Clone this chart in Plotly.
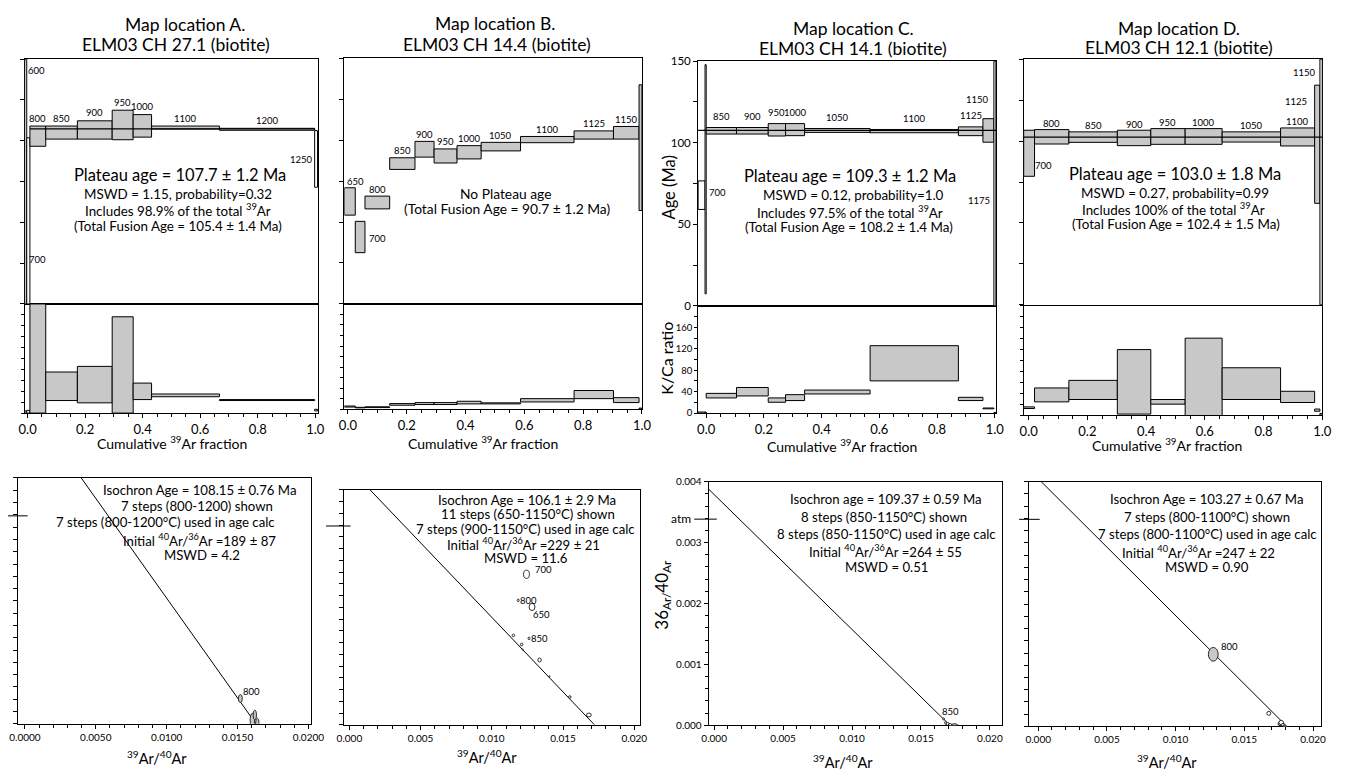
import plotly.graph_objects as go

W, H = 1352, 778
FONT = "Lato"
GRAY = "#c8c8c8"

# ========================= DATA =========================
# Step-heating age spectra: temperature label, cumulative 39Ar fraction (start/end),
# apparent-age box (Ma), K/Ca box, filled (grey) flag, drawn plateau level (Ma).
A_temp       = ["600", "700", "800", "850", "900", "950", "1000", "1100", "1200", "1250"]
A_cum_start  = [-0.010, -0.003, 0.008, 0.063, 0.173, 0.294, 0.367, 0.431, 0.667, 0.998]
A_cum_end    = [-0.003, 0.008, 0.063, 0.173, 0.294, 0.367, 0.431, 0.667, 0.998, 1.008]
A_age_low    = [0.0, 0.0, 96.6, 101.0, 101.0, 100.6, 102.2, 107.2, 106.4, 71.5]
A_age_high   = [150.0, 101.8, 109.0, 109.0, 112.2, 118.7, 116.0, 109.0, 107.6, 106.2]
A_kca_low    = [0.0, 0.0, 0.0, 23.0, 18.8, 0.0, 24.8, 30.0, 23.0, 4.0]
A_kca_high   = [4.0, 5.0, 200.0, 75.3, 85.6, 176.5, 55.0, 35.0, 24.8, 7.0]
A_filled     = [0, 0, 1, 1, 1, 1, 1, 1, 1, 0]
A_plateau    = 107.2

B_temp       = ["650", "700", "800", "850", "900", "950", "1000", "1050", "1100", "1125", "1150", ""]
B_cum_start  = [-0.012, 0.025, 0.058, 0.142, 0.228, 0.293, 0.371, 0.453, 0.587, 0.769, 0.903, 0.990]
B_cum_end    = [0.025, 0.058, 0.142, 0.228, 0.293, 0.371, 0.453, 0.587, 0.769, 0.903, 0.990, 1.000]
B_age_low    = [54.2, 31.3, 58.0, 82.1, 89.6, 86.0, 88.5, 93.4, 98.4, 100.6, 100.6, 57.0]
B_age_high   = [70.9, 50.4, 65.8, 89.2, 99.2, 94.6, 96.6, 98.6, 102.2, 105.6, 108.3, 133.7]
B_kca_low    = [4.0, 2.5, 3.0, 7.5, 8.8, 8.8, 10.0, 10.0, 13.7, 20.0, 12.5, 0.0]
B_kca_high   = [6.0, 3.5, 4.5, 10.6, 12.5, 12.5, 15.0, 12.0, 20.0, 35.5, 21.9, 2.0]
B_filled     = [1, 1, 1, 1, 1, 1, 1, 1, 1, 1, 1, 1]
B_plateau    = None

C_temp       = ["700", "", "850", "900", "950", "1000", "1050", "1100", "1125", "1150", "1175"]
C_cum_start  = [-0.028, -0.004, 0.000, 0.105, 0.215, 0.275, 0.341, 0.568, 0.874, 0.959, 0.997]
C_cum_end    = [-0.004, 0.000, 0.105, 0.215, 0.275, 0.341, 0.568, 0.874, 0.959, 0.997, 1.004]
C_age_low    = [59.1, 7.4, 105.3, 105.3, 104.1, 104.3, 106.3, 106.1, 104.3, 100.3, 0.0]
C_age_high   = [76.6, 147.8, 109.3, 109.3, 111.7, 111.7, 108.7, 108.1, 109.7, 114.7, 150.0]
C_kca_low    = [0.0, 0.0, 28.3, 32.0, 20.2, 23.4, 35.7, 60.1, 23.4, 8.0, 0.0]
C_kca_high   = [2.0, 2.0, 36.8, 47.8, 28.3, 34.4, 43.0, 125.8, 29.4, 9.5, 1.0]
C_filled     = [0, 0, 1, 1, 1, 1, 1, 1, 1, 1, 0]
C_plateau    = 107.5

D_temp       = ["700", "800", "850", "900", "950", "1000", "1050", "1100", "1125", "1150"]
D_cum_start  = [-0.017, 0.020, 0.137, 0.302, 0.416, 0.533, 0.659, 0.858, 0.974, 0.992]
D_cum_end    = [0.020, 0.137, 0.302, 0.416, 0.533, 0.659, 0.858, 0.974, 0.992, 1.000]
D_age_low    = [78.5, 98.2, 99.2, 97.2, 98.0, 98.0, 99.4, 97.0, 62.0, 0.0]
D_age_high   = [106.6, 107.0, 105.6, 106.6, 107.6, 107.6, 105.6, 108.0, 134.1, 150.0]
D_kca_low    = [12.0, 24.2, 28.5, 1.8, 20.0, -2.0, 28.5, 23.0, 7.0, 0.0]
D_kca_high   = [15.0, 49.7, 63.6, 120.0, 28.5, 140.9, 86.7, 43.6, 11.0, 3.0]
D_filled     = [1, 1, 1, 1, 1, 1, 1, 1, 1, 0]
D_plateau    = 102.4

# Inverse isochrons: 39Ar/40Ar (x), 36Ar/40Ar (y), ellipse half-widths, fill, label
A_iso_x  = [0.01520, 0.01605, 0.01622, 0.01640]
A_iso_y  = [0.000411, 0.000064, 0.000144, 0.000011]
A_iso_sx = [0.000139, 0.000160, 0.000118, 0.000118]
A_iso_sy = [0.000064, 0.000107, 0.000080, 0.000080]
A_iso_filled = [1, 1, 1, 1]
A_iso_label  = ["800", "", "", ""]
A_initial_ratio = 189.0
A_x_intercept   = 0.0163

B_iso_x  = [0.01243, 0.01185, 0.01282, 0.01261, 0.01151, 0.01209, 0.01216, 0.01335, 0.01404, 0.01547, 0.01681]
B_iso_y  = [0.002562, 0.002118, 0.002006, 0.001471, 0.001521, 0.001366, 0.001282, 0.001103, 0.000824, 0.000473, 0.000167]
B_iso_sx = [0.000207, 0.00007, 0.000207, 0.00007, 0.00009, 0.00009, 0.00004, 0.00012, 0.00004, 0.00009, 0.00017]
B_iso_sy = [0.00007, 0.000022, 0.000062, 0.000022, 0.000022, 0.000022, 0.00001, 0.000033, 0.00001, 0.000022, 0.000033]
B_iso_filled = [0] * 11
B_iso_label  = ["700", "800", "650", "850", "", "", "", "", "", "", ""]
B_initial_ratio = 229.0
B_x_intercept   = 0.0172

C_iso_x  = [0.01664, 0.01679, 0.01693, 0.01712, 0.01743]
C_iso_y  = [0.000105, 0.000040, 0.000024, 0.000008, -0.000036]
C_iso_sx = [0.00007, 0.00008, 0.00010, 0.00010, 0.000286]
C_iso_sy = [0.000016, 0.000020, 0.000024, 0.000024, 0.0000646]
C_iso_filled = [0, 0, 0, 0, 1]
C_iso_label  = ["850", "", "", "", ""]
C_initial_ratio = 264.0
C_x_intercept   = 0.0171

D_iso_x  = [0.01274, 0.01678, 0.01759, 0.01768, 0.01780, 0.01797, 0.01847]
D_iso_y  = [0.001179, 0.000215, 0.000043, 0.000064, 0.000027, -0.000026, -0.000106]
D_iso_sx = [0.000358, 0.000143, 0.00014, 0.000165, 0.00011, 0.000165, 0.000215]
D_iso_sy = [0.000112, 0.000032, 0.00003, 0.000037, 0.00002, 0.000037, 0.000048]
D_iso_filled = [1, 0, 1, 0, 0, 1, 1]
D_iso_label  = ["800", "", "", "", "", "", ""]
D_initial_ratio = 247.0
D_x_intercept   = 0.0181

ATM_RATIO = 295.5

TITLES = {
    "A": ("Map location A.", "ELM03 CH 27.1 (biotite)"),
    "B": ("Map location B.", "ELM03 CH 14.4 (biotite)"),
    "C": ("Map location C.", "ELM03 CH 14.1 (biotite)"),
    "D": ("Map location D.", "ELM03 CH 12.1 (biotite)"),
}
SPEC_TEXT = {
    "A": ["Plateau age = 107.7 ± 1.2 Ma", "MSWD = 1.15, probability=0.32",
          "Includes 98.9% of the total <sup>39</sup>Ar", "(Total Fusion Age = 105.4 ± 1.4 Ma)"],
    "B": ["No Plateau age", "(Total Fusion Age = 90.7 ± 1.2 Ma)"],
    "C": ["Plateau age = 109.3 ± 1.2 Ma", "MSWD = 0.12, probability=1.0",
          "Includes 97.5% of the total <sup>39</sup>Ar", "(Total Fusion Age = 108.2 ± 1.4 Ma)"],
    "D": ["Plateau age = 103.0 ± 1.8 Ma", "MSWD = 0.27, probability=0.99",
          "Includes 100% of the total <sup>39</sup>Ar", "(Total Fusion Age = 102.4 ± 1.5 Ma)"],
}
ISO_TEXT = {
    "A": ["Isochron Age = 108.15 ± 0.76 Ma", "7 steps (800-1200) shown", "7 steps (800-1200°C) used in age calc",
          "Initial <sup>40</sup>Ar/<sup>36</sup>Ar =189 ± 87", "MSWD = 4.2"],
    "B": ["Isochron Age = 106.1 ± 2.9 Ma", "11 steps (650-1150°C) shown", "7 steps (900-1150°C) used in age calc",
          "Initial <sup>40</sup>Ar/<sup>36</sup>Ar =229 ± 21", "MSWD = 11.6"],
    "C": ["Isochron age = 109.37 ± 0.59 Ma", "8 steps (850-1150°C) shown", "8 steps (850-1150°C) used in age calc",
          "Initial <sup>40</sup>Ar/<sup>36</sup>Ar =264 ± 55", "MSWD = 0.51"],
    "D": ["Isochron Age = 103.27 ± 0.67 Ma", "7 steps (800-1100°C) shown", "7 steps (800-1100°C) used in age calc",
          "Initial <sup>40</sup>Ar/<sup>36</sup>Ar =247 ± 22", "MSWD = 0.90"],
}

# ========================= ASSEMBLY =========================
PANELS = ["A", "B", "C", "D"]
spec = {
    "A": dict(temp=A_temp, c0=A_cum_start, c1=A_cum_end, alo=A_age_low, ahi=A_age_high,
              klo=A_kca_low, khi=A_kca_high, filled=A_filled, plateau=A_plateau,
              pspan=(A_cum_start[2], A_cum_end[8])),
    "B": dict(temp=B_temp, c0=B_cum_start, c1=B_cum_end, alo=B_age_low, ahi=B_age_high,
              klo=B_kca_low, khi=B_kca_high, filled=B_filled, plateau=B_plateau, pspan=None),
    "C": dict(temp=C_temp, c0=C_cum_start, c1=C_cum_end, alo=C_age_low, ahi=C_age_high,
              klo=C_kca_low, khi=C_kca_high, filled=C_filled, plateau=C_plateau,
              pspan=(C_cum_start[0], C_cum_end[-1])),
    "D": dict(temp=D_temp, c0=D_cum_start, c1=D_cum_end, alo=D_age_low, ahi=D_age_high,
              klo=D_kca_low, khi=D_kca_high, filled=D_filled, plateau=D_plateau,
              pspan=(D_cum_start[0], D_cum_end[-1])),
}
iso = {
    "A": dict(x=A_iso_x, y=A_iso_y, sx=A_iso_sx, sy=A_iso_sy, f=A_iso_filled, lab=A_iso_label,
              r0=A_initial_ratio, xi=A_x_intercept),
    "B": dict(x=B_iso_x, y=B_iso_y, sx=B_iso_sx, sy=B_iso_sy, f=B_iso_filled, lab=B_iso_label,
              r0=B_initial_ratio, xi=B_x_intercept),
    "C": dict(x=C_iso_x, y=C_iso_y, sx=C_iso_sx, sy=C_iso_sy, f=C_iso_filled, lab=C_iso_label,
              r0=C_initial_ratio, xi=C_x_intercept),
    "D": dict(x=D_iso_x, y=D_iso_y, sx=D_iso_sx, sy=D_iso_sy, f=D_iso_filled, lab=D_iso_label,
              r0=D_initial_ratio, xi=D_x_intercept),
}

# ---- layout geometry (pixels: left, right, top, bottom) ----
SPEC_BOX = {"A": (17, 315, 53, 302), "B": (341.7, 644, 52, 302),
            "C": (701, 1003.5, 55, 304), "D": (1031.7, 1335, 53, 303)}
KCA_BOX = {"A": (17, 315, 302, 413), "B": (341.7, 644, 302, 409),
           "C": (701, 1003.5, 304, 413), "D": (1031.7, 1335, 304, 415)}
ISO_BOX = {"A": (10, 308, 479, 729), "B": (341, 642, 491, 730),
           "C": (711.7, 1010, 482.7, 730.5), "D": (1036.7, 1334, 482.7, 731.7)}
SPEC_XR = {"A": [-0.010, 1.010], "B": [-0.012, 1.0], "C": [-0.028, 1.004], "D": [-0.017, 1.0]}
ISO_XR = {"A": [-0.0005, 0.0202], "B": [-0.0004, 0.0204], "C": [-0.0004, 0.0209], "D": [-0.0007, 0.0206]}
LABEL_YSHIFT = {"A": 8, "B": 7, "C": 11, "D": 6}
LABEL_OVERRIDE = {
    "A": {"600": (0.031, 142.8), "700": (0.036, 27.1), "1250": (0.951, 88.6)},
    "B": {"650": (0.025, 74.9), "700": (0.100, 39.8)},
    "C": {"700": (0.039, 69.3), "1175": (0.946, 64.6), "1150": (0.940, 126.3)},
    "D": {"700": (0.050, 84.9), "1125": (0.910, 124.3), "1150": (0.939, 141.7)},
}
ISO_LABEL_SHIFT = {"A": (11, 7), "B": (14, 4), "C": (7, 7), "D": (16, 8)}
ISO_LABEL_SHIFT_B = {"700": (17, 5), "800": (10, 0), "650": (9, -8), "850": (10, 0)}
ATM_DASH = {"A": (0, 20), "B": (323, 348), "C": (697, 720), "D": (1027, 1048)}
TITLE_POS = {"A": ((180, 17.5), (171, 38)), "B": ((495, 17), (496.7, 38.5)),
             "C": ((859, 22), (858.7, 42)), "D": ((1189, 21.5), (1189, 41.5))}
SPEC_TEXT_POS = {
    "A": [(175, 170.5), (173, 190.5), (173, 206.5), (173, 222.7)],
    "B": [(505, 189.3), (507, 204.5)],
    "C": [(855, 172), (859, 190.7), (855, 208.3), (854, 223.3)],
    "D": [(1185, 169.5), (1185, 189.3), (1184, 205), (1186, 221)],
}
ISO_TEXT_POS = {
    "A": [(195, 491.7), (191.7, 507.3), (160, 524), (195, 541.7), (196.7, 557.7)],
    "B": [(527.3, 501), (528.3, 516), (525.3, 531), (524, 546), (525.7, 560)],
    "C": [(891.7, 500), (890, 518.3), (892.5, 536), (891.7, 553.3), (892.5, 569.3)],
    "D": [(1217.5, 500.7), (1217.5, 518.3), (1218.3, 536), (1209, 554), (1217.5, 570)],
}
CUM_LABEL_POS = {"A": (167, 443), "B": (482, 443), "C": (847, 446), "D": (1177, 445)}
ISO_XLABEL_POS = {"A": (151, 763), "B": (487, 762), "C": (848, 767), "D": (1177, 767)}
SIZE_TITLE, SIZE_PLATEAU, SIZE_SPEC, SIZE_SPEC_B, SIZE_ISO = 17.5, 16.5, 13.4, 13.8, 13.2


def dom_x(a, b):
    return [a / W, b / W]


def dom_y(top, bottom):
    return [1 - bottom / H, 1 - top / H]


def names(n):
    s = "" if n == 1 else str(n)
    return "xaxis" + s, "yaxis" + s, "x" + s, "y" + s


def base_axis():
    return dict(showline=True, mirror=True, linecolor="black", linewidth=1, showgrid=False,
                zeroline=False, tickcolor="black", fixedrange=True, tickfont=dict(size=11, color="black"))


def txt(text, x, y, size, **kw):
    d = dict(text=text, x=x / W, y=1 - y / H, xref="paper", yref="paper", showarrow=False,
             font=dict(size=size, color="black", family=FONT), xanchor="center", yanchor="middle")
    d.update(kw)
    return d


fig = go.Figure()
layout = dict(width=W, height=H, margin=dict(l=0, r=0, t=0, b=0), paper_bgcolor="white",
              plot_bgcolor="rgba(0,0,0,0)", showlegend=False, font=dict(family=FONT, color="black"))
shapes, annotations = [], []

for i, p in enumerate(PANELS):
    d = spec[p]
    # ---------------- age spectrum ----------------
    xa, ya, xr, yr = names(i + 1)
    l, r, t, b = SPEC_BOX[p]
    ax = base_axis()
    ax.update(domain=dom_x(l, r), range=SPEC_XR[p], anchor=yr, ticks="", showticklabels=False)
    layout[xa] = ax
    ay = base_axis()
    ay.update(domain=dom_y(t, b), range=[0, 150], anchor=xr, ticks="outside", ticklen=4)
    if p == "C":
        ay.update(dtick=50, tick0=0, showticklabels=True, tickfont=dict(size=11.5, color="black"),
                  minor=dict(dtick=25, ticks="outside", ticklen=4, tickcolor="black"))
    else:
        ay.update(dtick=25, tick0=0, showticklabels=False)
    layout[ya] = ay
    fig.add_trace(go.Scatter(x=[None], y=[None], xaxis=xr, yaxis=yr, hoverinfo="skip"))
    for k in range(len(d["temp"])):
        shapes.append(dict(type="rect", xref=xr, yref=yr, x0=d["c0"][k], x1=d["c1"][k],
                           y0=d["alo"][k], y1=d["ahi"][k],
                           fillcolor=GRAY if d["filled"][k] else "white",
                           line=dict(color="black", width=1)))
    if d["plateau"] is not None:
        shapes.append(dict(type="line", xref=xr, yref=yr, x0=d["pspan"][0], x1=d["pspan"][1],
                           y0=d["plateau"], y1=d["plateau"], line=dict(color="black", width=1.3)))
    for k, tl in enumerate(d["temp"]):
        if not tl:
            continue
        if tl in LABEL_OVERRIDE[p]:
            lx, ly = LABEL_OVERRIDE[p][tl]
            ys = 0
        else:
            lx = (d["c0"][k] + d["c1"][k]) / 2
            ly = d["ahi"][k]
            ys = LABEL_YSHIFT[p]
        annotations.append(dict(x=lx, y=ly, xref=xr, yref=yr, text=tl, showarrow=False, yshift=ys,
                                font=dict(size=9.5, color="black", family=FONT),
                                xanchor="center", yanchor="middle"))

    # ---------------- K/Ca ----------------
    xa, ya, xr, yr = names(i + 5)
    l, r, t, b = KCA_BOX[p]
    ax = base_axis()
    ax.update(domain=dom_x(l, r), range=SPEC_XR[p], anchor=yr, ticks="outside", ticklen=4,
              dtick=0.2, tick0=0, tickformat=".1f", tickfont=dict(size=13, color="black"),
              minor=dict(dtick=0.05, ticks="outside", ticklen=3, tickcolor="black"))
    layout[xa] = ax
    ay = base_axis()
    ay.update(domain=dom_y(t, b), range=[0, 200], anchor=xr, ticks="outside", ticklen=3)
    if p == "C":
        ay.update(tickmode="array", tickvals=[0, 40, 80, 120, 160], showticklabels=True,
                  tickfont=dict(size=9.5, color="black"),
                  minor=dict(dtick=20, ticks="outside", ticklen=3, tickcolor="black"))
    else:
        ay.update(dtick=20, tick0=0, showticklabels=False)
    layout[ya] = ay
    fig.add_trace(go.Scatter(x=[None], y=[None], xaxis=xr, yaxis=yr, hoverinfo="skip"))
    for k in range(len(d["temp"])):
        shapes.append(dict(type="rect", xref=xr, yref=yr, x0=d["c0"][k], x1=d["c1"][k],
                           y0=d["klo"][k], y1=d["khi"][k],
                           fillcolor=GRAY if d["filled"][k] else "white",
                           line=dict(color="black", width=1)))

    # ---------------- isochron ----------------
    q = iso[p]
    xa, ya, xr, yr = names(i + 9)
    l, r, t, b = ISO_BOX[p]
    ax = base_axis()
    ax.update(domain=dom_x(l, r), range=ISO_XR[p], anchor=yr, ticks="outside", ticklen=4,
              dtick=0.005, tick0=0, tickformat=".4f" if p == "A" else ".3f",
              tickfont=dict(size=10, color="black"),
              minor=dict(dtick=0.001, ticks="outside", ticklen=3, tickcolor="black"))
    layout[xa] = ax
    ay = base_axis()
    ay.update(domain=dom_y(t, b), range=[0, 0.004], anchor=xr, ticks="outside", ticklen=4)
    if p == "C":
        ay.update(dtick=0.001, tick0=0, tickformat=".3f", showticklabels=True,
                  tickfont=dict(size=10, color="black"),
                  minor=dict(dtick=0.0002, ticks="outside", ticklen=3, tickcolor="black"))
    else:
        ay.update(dtick=0.0002, tick0=0, showticklabels=False)
    layout[ya] = ay
    y_int = 1.0 / q["r0"]
    xs = [ISO_XR[p][0], q["xi"]]
    ys = [y_int * (1 - xv / q["xi"]) for xv in xs]
    fig.add_trace(go.Scatter(x=xs, y=ys, mode="lines", line=dict(color="black", width=1),
                             xaxis=xr, yaxis=yr, hoverinfo="skip"))
    for k in range(len(q["x"])):
        shapes.append(dict(type="circle", xref=xr, yref=yr,
                           x0=q["x"][k] - q["sx"][k], x1=q["x"][k] + q["sx"][k],
                           y0=q["y"][k] - q["sy"][k], y1=q["y"][k] + q["sy"][k],
                           fillcolor=GRAY if q["f"][k] else "white",
                           line=dict(color="black", width=0.8)))
        if q["lab"][k]:
            dx, dy = ISO_LABEL_SHIFT[p]
            if p == "B":
                dx, dy = ISO_LABEL_SHIFT_B[q["lab"][k]]
            annotations.append(dict(x=q["x"][k], y=q["y"][k], xref=xr, yref=yr, text=q["lab"][k],
                                    showarrow=False, xshift=dx, yshift=dy,
                                    font=dict(size=9.5, color="black", family=FONT),
                                    xanchor="center", yanchor="middle"))
    # atmospheric ratio marker
    a0, a1 = ATM_DASH[p]
    shapes.append(dict(type="line", xref="paper", yref=yr, x0=a0 / W, x1=a1 / W,
                       y0=1.0 / ATM_RATIO, y1=1.0 / ATM_RATIO, line=dict(color="black", width=1)))

    # ---------------- texts ----------------
    (t1x, t1y), (t2x, t2y) = TITLE_POS[p]
    annotations.append(txt(TITLES[p][0], t1x, t1y, SIZE_TITLE))
    annotations.append(txt(TITLES[p][1], t2x, t2y, SIZE_TITLE))
    for j, s in enumerate(SPEC_TEXT[p]):
        px, py = SPEC_TEXT_POS[p][j]
        if p == "B":
            size = SIZE_SPEC_B
        else:
            size = SIZE_PLATEAU if j == 0 else SIZE_SPEC
        annotations.append(txt(s, px, py, size))
    for j, s in enumerate(ISO_TEXT[p]):
        px, py = ISO_TEXT_POS[p][j]
        annotations.append(txt(s, px, py, SIZE_ISO))
    cx, cy = CUM_LABEL_POS[p]
    annotations.append(txt("Cumulative <sup>39</sup>Ar fraction", cx, cy, 14))
    ix, iy = ISO_XLABEL_POS[p]
    annotations.append(txt("<sup>39</sup>Ar/<sup>40</sup>Ar", ix, iy, 14.5))

annotations.append(txt("Age (Ma)", 671, 184, 16.5, textangle=-90))
annotations.append(txt("K/Ca ratio", 668, 357, 16, textangle=-90))
annotations.append(txt("36<sub>Ar/</sub>40<sub>Ar</sub>", 665, 598, 17, textangle=-90))
annotations.append(txt("atm", 696, 520.5, 12, xanchor="right"))

layout["shapes"] = shapes
layout["annotations"] = annotations
fig.update_layout(**layout)
fig.write_html("out.html")
